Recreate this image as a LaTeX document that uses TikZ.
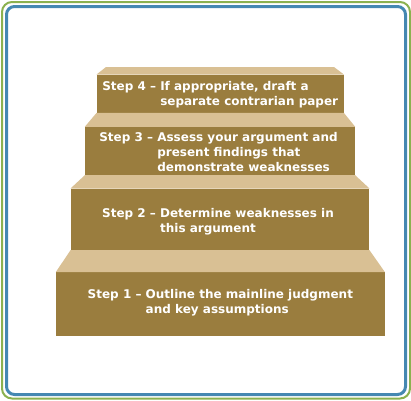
\documentclass[tikz,border=0pt]{standalone}
\usepackage{fontspec}
\newfontfamily\stepfont{DejaVu Sans}
\definecolor{riser}{RGB}{154,125,62}
\definecolor{tread}{RGB}{217,192,148}
\definecolor{frameblue}{RGB}{69,136,178}
\definecolor{framegreen}{RGB}{139,177,79}
\tikzset{
  riserbox/.style={rectangle,fill=riser,inner sep=0pt},
  steptext/.style={text=white,font=\stepfont\bfseries\fontsize{12}{15}\selectfont,inner sep=0pt},
  treadface/.style={fill=tread}
}
\newcommand\stepblock[2]{\begin{tabular}{@{}l@{\ }l@{}}#1 & #2\end{tabular}}
\begin{document}
\begin{tikzpicture}[x=1pt,y=-1pt]
\useasboundingbox (0,0) rectangle (411,400);
% frame
\draw[framegreen,line width=2pt,rounded corners=10pt] (2,2) rectangle (410,398.5);
\draw[frameblue,line width=3pt,rounded corners=8pt] (6.5,6.5) rectangle (405.5,394.5);
% risers
\node[riserbox,minimum width=328.7pt,minimum height=63.4pt] (s1) at (220.35,304) {};
\node[riserbox,minimum width=298.6pt,minimum height=61.3pt] (s2) at (220,219.35) {};
\node[riserbox,minimum width=270pt,minimum height=48pt] (s3) at (220,151) {};
\node[riserbox,minimum width=247pt,minimum height=38pt] (s4) at (220.2,93.7) {};
\coordinate (topw) at (106,67);
\coordinate (tope) at (334,67);
% treads
\fill[treadface] (s1.north west) -- (s1.north east) -- (s2.south east) -- (s2.south west) -- cycle;
\fill[treadface] (s2.north west) -- (s2.north east) -- (s3.south east) -- (s3.south west) -- cycle;
\fill[treadface] (s3.north west) -- (s3.north east) -- (s4.south east) -- (s4.south west) -- cycle;
\fill[treadface] (s4.north west) -- (s4.north east) -- (tope) -- (topw) -- cycle;
% labels
\node[steptext] (t1) at ([yshift=1.2pt]s1.center) {\stepblock{Step 1 –}{Outline the mainline judgment\\ & and key assumptions}};
\node[steptext] (t2) at ([xshift=-2pt,yshift=-2.8pt]s2.center) {\stepblock{Step 2 –}{Determine weaknesses in\\ & this argument}};
\node[steptext] (t3) at ([xshift=-1.5pt,yshift=-2.7pt]s3.center) {\stepblock{Step 3 –}{Assess your argument and\\ & present findings that\\ & demonstrate weaknesses}};
\node[steptext] (t4) at ([yshift=-1.5pt]s4.center) {\stepblock{Step 4 –}{If appropriate, draft a\\ & separate contrarian paper}};
\end{tikzpicture}
\end{document}
